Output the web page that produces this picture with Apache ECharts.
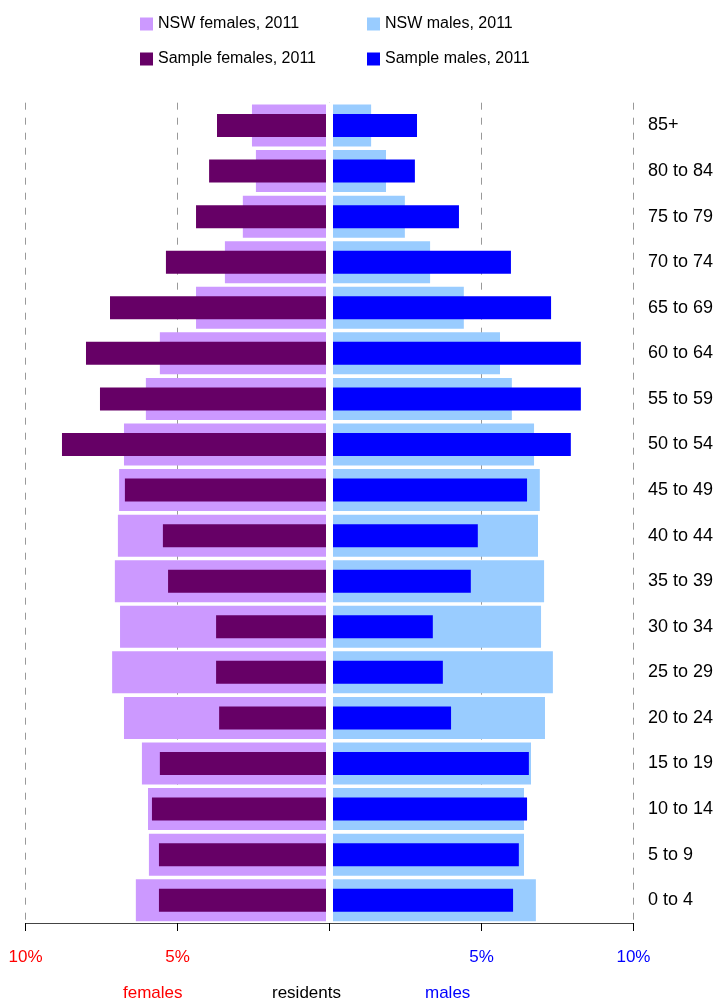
<!DOCTYPE html>
<html>
<head>
<meta charset="utf-8">
<script src="https://cdn.jsdelivr.net/npm/echarts@6/dist/echarts.min.js"></script>
<style>
  html, body { margin: 0; padding: 0; background: #fff; }
  #chart { width: 716px; height: 1001px; }
</style>
</head>
<body>
<div id="chart"></div>
<script>
// age groups, bottom to top
const ageGroups = ['0 to 4', '5 to 9', '10 to 14', '15 to 19', '20 to 24', '25 to 29', '30 to 34',
  '35 to 39', '40 to 44', '45 to 49', '50 to 54', '55 to 59', '60 to 64', '65 to 69',
  '70 to 74', '75 to 79', '80 to 84', '85+']

// percent of residents
const nswFemales = [6.37, 5.94, 5.97, 6.17, 6.76, 7.15, 6.89, 7.06, 6.96, 6.92, 6.76, 6.04, 5.58, 4.39, 3.44, 2.85, 2.42, 2.55]
const sampleFemales = [5.61, 5.61, 5.84, 5.58, 3.63, 3.73, 3.73, 5.31, 5.48, 6.73, 8.80, 7.55, 8.01, 7.22, 5.38, 4.39, 3.96, 3.70]
const nswMales = [6.79, 6.40, 6.40, 6.63, 7.09, 7.35, 6.96, 7.06, 6.86, 6.92, 6.73, 6.00, 5.61, 4.42, 3.31, 2.48, 1.86, 1.37]
const sampleMales = [6.04, 6.23, 6.50, 6.56, 4.00, 3.73, 3.40, 4.65, 4.88, 6.50, 7.94, 8.27, 8.27, 7.29, 5.97, 4.26, 2.81, 2.88]

const FONT = "'Liberation Sans', Arial, Helvetica, sans-serif"

const chart = echarts.init(document.getElementById('chart'), null, { renderer: 'canvas' })

function legendAt (name, left, top) {
  return {
    data: [name],
    left: left,
    top: top,
    padding: 0,
    icon: 'rect',
    itemWidth: 13,
    itemHeight: 13,
    itemGap: 0,
    selectedMode: false,
    textStyle: { fontFamily: FONT, fontSize: 16, color: '#000' }
  }
}

const option = {
  animation: false,
  backgroundColor: '#fff',
  legend: [
    legendAt('NSW females, 2011', 140, 16),
    legendAt('NSW males, 2011', 367, 16),
    legendAt('Sample females, 2011', 140, 51),
    legendAt('Sample males, 2011', 367, 51)
  ],
  grid: {
    left: 25.5,
    right: 82.5,
    top: 102.7,
    bottom: 78,
    containLabel: false
  },
  xAxis: {
    type: 'value',
    min: -10,
    max: 10,
    interval: 5,
    axisLine: { show: true, lineStyle: { color: '#444', width: 1 } },
    axisTick: { show: true, length: 8, lineStyle: { color: '#000' } },
    splitLine: {
      show: true,
      lineStyle: { color: '#999', type: [7, 8], width: 1 }
    },
    axisLabel: {
      margin: 26,
      fontFamily: FONT,
      fontSize: 17,
      formatter: v => {
        if (v < 0) return '{f|' + Math.abs(v) + '%}'
        if (v > 0) return '{m|' + v + '%}'
        return ''
      },
      rich: {
        f: { color: '#ff0000', fontFamily: FONT, fontSize: 17 },
        m: { color: '#0000ff', fontFamily: FONT, fontSize: 17 }
      }
    }
  },
  yAxis: [
    {
      type: 'category',
      data: ageGroups,
      position: 'right',
      axisLine: { show: false },
      axisTick: { show: false },
      axisLabel: { margin: 14.5, fontFamily: FONT, fontSize: 18, color: '#000' }
    },
    {
      type: 'category',
      data: ageGroups,
      position: 'right',
      show: false
    }
  ],
  graphic: [
    { type: 'text', left: 123, top: 985, style: { text: 'females', fill: '#ff0000', font: '17px ' + FONT } },
    { type: 'text', left: 272, top: 985, style: { text: 'residents', fill: '#000', font: '17px ' + FONT } },
    { type: 'text', left: 425, top: 985, style: { text: 'males', fill: '#0000ff', font: '17px ' + FONT } }
  ],
  series: [
    {
      name: 'NSW females, 2011',
      type: 'bar',
      yAxisIndex: 0,
      barWidth: 42,
      barGap: '-100%',
      itemStyle: { color: '#cc99ff' },
      data: nswFemales.map(v => -v)
    },
    {
      name: 'NSW males, 2011',
      type: 'bar',
      yAxisIndex: 0,
      barWidth: 42,
      barGap: '-100%',
      itemStyle: { color: '#99ccff' },
      data: nswMales
    },
    {
      name: 'Sample females, 2011',
      type: 'bar',
      yAxisIndex: 1,
      barWidth: 23,
      barGap: '-100%',
      itemStyle: { color: '#660066' },
      data: sampleFemales.map(v => -v)
    },
    {
      name: 'Sample males, 2011',
      type: 'bar',
      yAxisIndex: 1,
      barWidth: 23,
      barGap: '-100%',
      itemStyle: { color: '#0000ff' },
      data: sampleMales,
      // white gap down the middle
      markLine: {
        silent: true,
        symbol: 'none',
        label: { show: false },
        lineStyle: { color: '#fff', width: 7, type: 'solid' },
        data: [{ xAxis: 0 }]
      }
    }
  ]
}

chart.setOption(option)
</script>
</body>
</html>
